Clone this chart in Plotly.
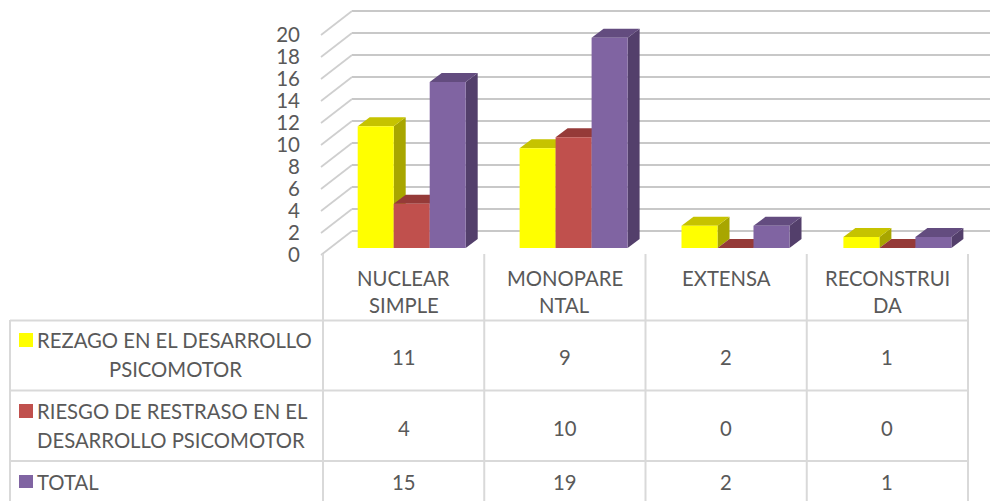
import plotly.graph_objects as go

# Data table contents
categories = [["NUCLEAR", "SIMPLE"], ["MONOPARE", "NTAL"], ["EXTENSA"], ["RECONSTRUI", "DA"]]
series_names = ["REZAGO EN EL DESARROLLO PSICOMOTOR",
                "RIESGO DE RESTRASO EN EL DESARROLLO PSICOMOTOR",
                "TOTAL"]
rezago = [11, 9, 2, 1]
riesgo = [4, 10, 0, 0]
total = [15, 19, 2, 1]
y_ticks = list(range(0, 21, 2))

series = [rezago, riesgo, total]
front_colors = ["#FFFF00", "#C0504D", "#8064A2"]
top_colors = ["#C6C300", "#953A38", "#634C7F"]
side_colors = ["#A8A600", "#953A38", "#533F6B"]

W, H = 990, 501
FONT = "Lato"
TEXT = "#595959"
RULE = "#D9D9D9"
FS = 20.3

# Pixel geometry of the pseudo-3D box
CELL_X0, CELL_W = 323.0, 161.25
BAR_CELL = 161.9
BAR_W = 36.0 / BAR_CELL
GROUP_SHIFT = 7.75 / BAR_CELL
DEPTH_DX = 12.0 / BAR_CELL
BAR_PPU = 11.07
DEPTH_DY = 9.0 / BAR_PPU


def cat_range():
    return [-CELL_X0 / BAR_CELL, (W - CELL_X0) / BAR_CELL]


def val_range(zero_px, ppu):
    return [(zero_px - H) / ppu, zero_px / ppu]


fig = go.Figure()

# Baseline of the back wall, on the axes that carry the wall's gridlines
fig.add_trace(go.Scatter(x=[0, 1], y=[0, 0], mode="lines", line=dict(color="#C8C8C8", width=2),
                         xaxis="x", yaxis="y", hoverinfo="skip", showlegend=False))

# Diagonal ticks joining the value axis to the back wall
for v in y_ticks:
    fig.add_trace(go.Scatter(
        x=[-2.0 / BAR_CELL, 29.0 / BAR_CELL], y=[v, v + 24.0 / 11.0], mode="lines",
        line=dict(color="#CFCFCF", width=1.75),
        xaxis="x2", yaxis="y4", hoverinfo="skip", showlegend=False))

# Side and top faces, painted per series from left to right
for s, vals in enumerate(series):
    for i, v in enumerate(vals):
        left = i + 0.5 + GROUP_SHIFT + (s - 1.5) * BAR_W
        right = left + BAR_W
        if v > 0:
            fig.add_trace(go.Scatter(
                x=[right, right + DEPTH_DX, right + DEPTH_DX, right, right],
                y=[0, DEPTH_DY, v + DEPTH_DY, v, 0],
                mode="lines", fill="toself", fillcolor=side_colors[s],
                line=dict(width=0), xaxis="x2", yaxis="y2",
                hoverinfo="skip", showlegend=False))
        fig.add_trace(go.Scatter(
            x=[left, left + DEPTH_DX, right + DEPTH_DX, right, left],
            y=[v, v + DEPTH_DY, v + DEPTH_DY, v, v],
            mode="lines", fill="toself", fillcolor=top_colors[s],
            line=dict(width=0), xaxis="x2", yaxis="y2",
            hoverinfo="skip", showlegend=False))

# Front faces
for s, vals in enumerate(series):
    fig.add_trace(go.Bar(
        x=[i + 0.5 + GROUP_SHIFT + (s - 1) * BAR_W for i in range(len(vals))],
        y=vals, width=BAR_W, marker=dict(color=front_colors[s], line=dict(width=0)),
        name=series_names[s], xaxis="x3", yaxis="y3", showlegend=False))

# Table rules
shapes = []


def rule(x0, y0, x1, y1):
    shapes.append(dict(type="line", xref="paper", yref="paper",
                       x0=x0 / W, x1=x1 / W, y0=1 - y0 / H, y1=1 - y1 / H,
                       line=dict(color=RULE, width=2)))


for y in [320.5, 390.5, 461]:
    rule(10, y, 968, y)
rule(10, 320, 10, 501)
for i in range(5):
    x = CELL_X0 + i * CELL_W
    rule(x, 254, x, 501)

# Table text
annotations = []


def label(txt, x, y, anchor="center", size=FS):
    annotations.append(dict(text=txt, xref="paper", yref="paper", x=x / W, y=1 - y / H,
                            xanchor=anchor, yanchor="middle", showarrow=False,
                            font=dict(family=FONT, size=size, color=TEXT)))


for i, lines in enumerate(categories):
    cx = CELL_X0 + (i + 0.5) * CELL_W
    for line, y in zip(lines, [278, 305]):
        label(line, cx, y)

row_centres = [357, 428, 482]
for vals, y in zip(series, row_centres):
    for i, v in enumerate(vals):
        label(str(v), CELL_X0 + (i + 0.5) * CELL_W, y)

label("REZAGO EN EL DESARROLLO", 35, 340, "left")
label("PSICOMOTOR", 175, 369)
label("RIESGO DE RESTRASO EN EL", 35, 411, "left")
label("DESARROLLO PSICOMOTOR", 35, 440, "left")
label("TOTAL", 35, 482, "left")

# Legend keys inside the table
for color, (y0, y1) in zip(front_colors, [(333, 347), (404, 418), (475, 488)]):
    shapes.append(dict(type="rect", xref="paper", yref="paper", x0=19 / W, x1=33 / W,
                       y0=1 - y1 / H, y1=1 - y0 / H, fillcolor=color, line=dict(width=0)))

hidden = dict(showgrid=False, zeroline=False, showticklabels=False, ticks="", showline=False)

fig.update_layout(
    width=W, height=H, margin=dict(l=0, r=0, t=0, b=0, pad=0),
    paper_bgcolor="white", plot_bgcolor="rgba(0,0,0,0)",
    barmode="overlay", showlegend=False, shapes=shapes, annotations=annotations,
    font=dict(family=FONT, color=TEXT),
    # Back wall: real gridlines limited to the wall's width
    xaxis=dict(domain=[352 / W, 1], range=[0, 1], **hidden),
    yaxis=dict(domain=[0, 1], range=val_range(231, 11.0), tickvals=y_ticks,
               showgrid=True, gridcolor="#C8C8C8", gridwidth=2,
               zeroline=False, showticklabels=False, ticks="", showline=False),
    # Side and top faces
    xaxis2=dict(domain=[0, 1], range=cat_range(), anchor="y2", **hidden),
    yaxis2=dict(domain=[0, 1], range=val_range(248, BAR_PPU), anchor="x2", **hidden),
    # Front faces
    xaxis3=dict(range=cat_range(), overlaying="x2", anchor="y3", **hidden),
    yaxis3=dict(range=val_range(248, BAR_PPU), overlaying="y2", anchor="x3", **hidden),
    # Printed value axis on the front plane
    yaxis4=dict(range=val_range(255, 11.0), overlaying="y2", anchor="free", position=300 / W,
                side="left", tickvals=y_ticks, ticks="", showgrid=False, zeroline=False,
                showline=False, tickfont=dict(family=FONT, size=20.5, color=TEXT)),
)

fig.write_html("out.html")
